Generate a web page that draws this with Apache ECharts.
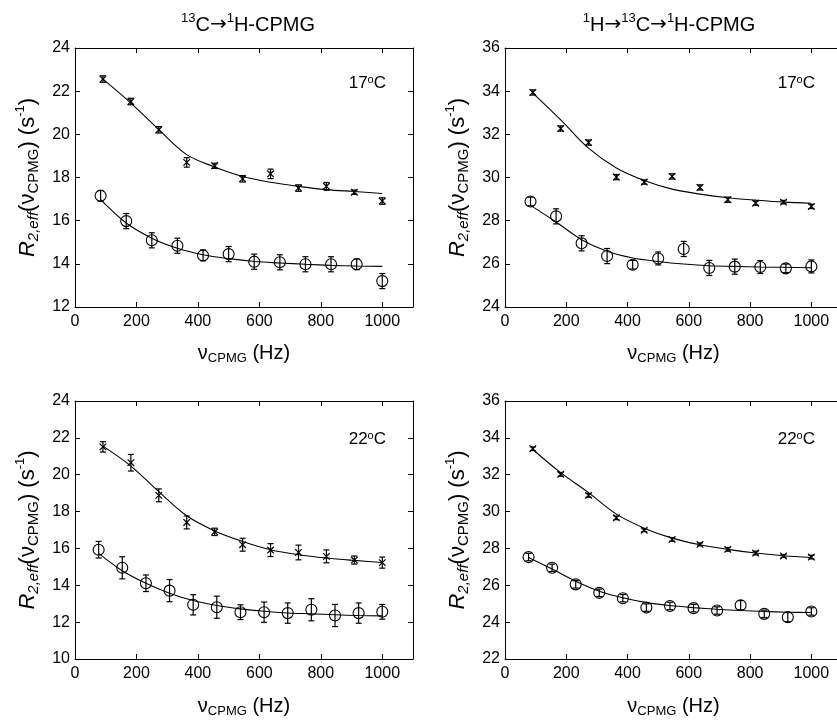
<!DOCTYPE html>
<html><head><meta charset="utf-8">
<script src="https://cdn.jsdelivr.net/npm/echarts@6/dist/echarts.min.js"></script>
<style>html,body{margin:0;padding:0;background:#fff}#c{width:837px;height:720px}</style>
</head><body><div id="c"></div>
<script>
// ---------- data ----------
const x11 = [90.9,181.8,272.7,363.6,454.5,545.5,636.4,727.3,818.2,909.1,1000];
const x12 = [83.3,166.7,250,333.3,416.7,500,583.3,666.7,750,833.3,916.7,1000];
const x13 = [76.9,153.8,230.8,307.7,384.6,461.5,538.5,615.4,692.3,769.2,846.2,923.1,1000];

// panel A: 13C->1H-CPMG, 17C
const A_upY   = [22.56,21.52,20.21,18.70,18.54,17.94,18.17,17.51,17.59,17.32,16.91];
const A_upErr = [0.15,0.15,0.15,0.22,0.12,0.15,0.22,0.15,0.18,0.1,0.15];
const A_upFit = [22.56,21.45,20.22,19.06,18.49,18.05,17.78,17.59,17.44,17.35,17.26];
const A_loY   = [17.15,15.98,15.09,14.84,14.39,14.45,14.10,14.07,13.98,13.98,13.98,13.20];
const A_loErr = [0.25,0.35,0.35,0.35,0.25,0.35,0.35,0.35,0.35,0.35,0.25,0.35];
const A_loFit = [16.97,15.89,15.19,14.72,14.42,14.24,14.11,14.04,13.98,13.93,13.90,13.88];

// panel B: 1H->13C->1H-CPMG, 17C
const B_upY   = [33.94,32.27,31.62,30.02,29.79,30.05,29.54,28.97,28.81,28.86,28.66];
const B_upErr = [0.12,0.12,0.12,0.12,0.1,0.12,0.12,0.12,0.1,0.08,0.1];
const B_upFit = [33.91,32.67,31.36,30.44,29.86,29.46,29.23,29.06,28.95,28.86,28.81];
const B_loY   = [28.89,28.20,26.95,26.36,25.96,26.25,26.69,25.81,25.87,25.85,25.79,25.88];
const B_loErr = [0.2,0.35,0.35,0.35,0.2,0.3,0.35,0.35,0.35,0.3,0.2,0.3];
const B_loFit = [28.71,27.94,27.12,26.58,26.27,26.11,25.99,25.91,25.88,25.85,25.84,25.82];

// panel C: 13C->1H-CPMG, 22C
const C_upY   = [21.51,20.65,18.88,17.41,16.90,16.20,15.91,15.78,15.57,15.37,15.23];
const C_upErr = [0.28,0.45,0.35,0.35,0.2,0.35,0.35,0.4,0.35,0.22,0.3];
const C_upFit = [21.55,20.47,19.08,17.77,16.95,16.38,15.93,15.66,15.48,15.35,15.24];
const C_loY   = [15.93,14.95,14.11,13.71,12.94,12.81,12.54,12.54,12.49,12.67,12.36,12.49,12.56];
const C_loErr = [0.45,0.6,0.45,0.6,0.55,0.6,0.4,0.55,0.55,0.6,0.6,0.55,0.4];
const C_loFit = [15.73,14.79,14.11,13.57,13.17,12.90,12.72,12.59,12.50,12.45,12.40,12.36,12.34];

// panel D: 1H->13C->1H-CPMG, 22C
const D_upY   = [33.41,32.02,30.88,29.66,28.99,28.49,28.22,27.95,27.75,27.59,27.53];
const D_upErr = [0.1,0.1,0.1,0.1,0.08,0.1,0.08,0.1,0.1,0.08,0.1];
const D_upFit = [33.37,32.11,31.03,29.86,29.10,28.56,28.20,27.95,27.75,27.60,27.51];
const D_loY   = [27.53,26.95,26.05,25.59,25.30,24.79,24.88,24.76,24.63,24.92,24.45,24.27,24.58];
const D_loErr = [0.2,0.2,0.2,0.2,0.2,0.2,0.2,0.2,0.2,0.25,0.2,0.25,0.2];
const D_loFit = [27.51,26.88,26.22,25.68,25.32,25.06,24.90,24.79,24.70,24.63,24.58,24.54,24.52];

const yRanges = [[12,24],[24,36],[10,24],[22,36]];
const tempLabels = ['17','17','22','22'];

const panels = [
  {up:[x11,A_upY,A_upErr,A_upFit], lo:[x12,A_loY,A_loErr,A_loFit]},
  {up:[x11,B_upY,B_upErr,B_upFit], lo:[x12,B_loY,B_loErr,B_loFit]},
  {up:[x11,C_upY,C_upErr,C_upFit], lo:[x13,C_loY,C_loErr,C_loFit]},
  {up:[x11,D_upY,D_upErr,D_upFit], lo:[x13,D_loY,D_loErr,D_loFit]}
];

// ---------- layout ----------
const FONT = '"Liberation Sans", Arial, Helvetica, sans-serif';
const ARROWFONT = '"DejaVu Sans", sans-serif';
const grids = [
  {left:75, top:48, width:338, height:259, outerBoundsMode:'none', containLabel:false},
  {left:505, top:48, width:337, height:259, outerBoundsMode:'none', containLabel:false},
  {left:75, top:401, width:338, height:258, outerBoundsMode:'none', containLabel:false},
  {left:505, top:401, width:337, height:258, outerBoundsMode:'none', containLabel:false}
];

const richY = {
  n:{fontSize:22, fontFamily:FONT, color:'#000', lineHeight:27},
  i:{fontSize:22, fontFamily:FONT, fontStyle:'italic', color:'#000', lineHeight:27},
  isub:{fontSize:15, fontFamily:FONT, fontStyle:'italic', color:'#000', lineHeight:9, verticalAlign:'bottom'},
  sub:{fontSize:15, fontFamily:FONT, color:'#000', lineHeight:9, verticalAlign:'bottom'},
  sup:{fontSize:13, fontFamily:FONT, color:'#000', lineHeight:16, verticalAlign:'top'}
};
const richX = {
  n:{fontSize:20, fontFamily:FONT, color:'#000', lineHeight:24},
  sub:{fontSize:13, fontFamily:FONT, color:'#000', lineHeight:8, verticalAlign:'bottom'}
};

function makeRender(kind){
  return function(params, api){
    const x = api.value(0), y = api.value(1), e = api.value(2);
    const c = api.coord([x,y]), lo = api.coord([x,y-e]), hi = api.coord([x,y+e]);
    const cw = 3;
    const st = {stroke:'#000', lineWidth:1.2, fill:'none'};
    const ch = [
      {type:'line', shape:{x1:c[0],y1:lo[1],x2:c[0],y2:hi[1]}, style:st},
      {type:'line', shape:{x1:c[0]-cw,y1:lo[1],x2:c[0]+cw,y2:lo[1]}, style:st},
      {type:'line', shape:{x1:c[0]-cw,y1:hi[1],x2:c[0]+cw,y2:hi[1]}, style:st}
    ];
    if (kind === 'o') {
      ch.push({type:'circle', shape:{cx:c[0], cy:c[1], r:5.5}, style:{stroke:'#000', lineWidth:1.1, fill:'none'}});
    } else {
      const s = 3.3;
      ch.push({type:'line', shape:{x1:c[0]-s,y1:c[1]-s,x2:c[0]+s,y2:c[1]+s}, style:st});
      ch.push({type:'line', shape:{x1:c[0]-s,y1:c[1]+s,x2:c[0]+s,y2:c[1]-s}, style:st});
    }
    return {type:'group', children:ch};
  };
}

const xAxes = [], yAxes = [], series = [], graphics = [];
const axLine = {show:true, onZero:false, lineStyle:{color:'#000', width:1}};
const axTick = {show:true, inside:true, length:5, lineStyle:{color:'#000', width:1}};

grids.forEach((g, i) => {
  const bottomRow = i >= 2;
  const rightCol = i % 2 === 1;
  xAxes.push({
    gridIndex:i, type:'value', min:0, max:1100, interval:200, position:'bottom',
    axisLine:axLine, axisTick:axTick, splitLine:{show:false},
    axisLabel:{color:'#000', fontSize:16, fontFamily:FONT, margin:7, showMaxLabel:false,
      formatter:v => v > 1000 ? '' : String(v)},
    name:'{n|ν}{sub|CPMG}{n| (Hz)}', nameLocation:'middle', nameGap: bottomRow ? 35 : 34,
    nameTextStyle:{rich:richX}
  });
  xAxes.push({
    gridIndex:i, type:'value', min:0, max:1100, interval:200, position:'top',
    axisLine:axLine, axisTick:axTick, splitLine:{show:false}, axisLabel:{show:false}
  });
  const [ymin, ymax] = yRanges[i];
  yAxes.push({
    gridIndex:i, type:'value', min:ymin, max:ymax, interval:2, position:'left',
    axisLine:axLine, axisTick:axTick, splitLine:{show:false},
    axisLabel:{color:'#000', fontSize:16, fontFamily:FONT, margin:5},
    name:'{i|R}{isub|2,eff}{n|(ν}{sub|CPMG}{n|) (s}{sup|-1}{n|)}',
    nameLocation:'middle', nameGap:34, nameTextStyle:{rich:richY}
  });
  yAxes.push({
    gridIndex:i, type:'value', min:ymin, max:ymax, interval:2, position:'right',
    show: !rightCol,
    axisLine:axLine, axisTick:axTick, splitLine:{show:false}, axisLabel:{show:false}
  });
  const xi = i*2, yi = i*2;
  const p = panels[i];
  [['up','x'],['lo','o']].forEach(([key, kind]) => {
    const [xs, ys, es, fit] = p[key];
    series.push({
      type:'line', xAxisIndex:xi, yAxisIndex:yi, smooth:0.35, symbol:'none',
      lineStyle:{color:'#000', width:1.1}, data: xs.map((x,k) => [x, fit[k]]), z:2, animation:false
    });
    series.push({
      type:'custom', xAxisIndex:xi, yAxisIndex:yi, renderItem:makeRender(kind),
      data: xs.map((x,k) => [x, ys[k], es[k]]), encode:{x:0, y:1}, z:3, animation:false
    });
  });
  graphics.push({
    type:'text', right: rightCol ? 837 - 815 : 837 - 386, top: bottomRow ? 430 : 74,
    style:{text: tempLabels[i] + '{s|o}C', fontSize:17, fontFamily:FONT, fill:'#000',
      rich:{s:{fontSize:11, fontFamily:FONT, verticalAlign:'top', lineHeight:18}}}
  });
});

const richTitle = {
  n:{fontSize:20, fontFamily:FONT, color:'#000', lineHeight:26},
  a:{fontSize:20, fontFamily:ARROWFONT, color:'#000', lineHeight:26},
  s:{fontSize:13, fontFamily:FONT, color:'#000', lineHeight:15, verticalAlign:'top'}
};
const titleTexts = ['{s|13}{n|C}{a|→}{s|1}{n|H-CPMG}', '{s|1}{n|H}{a|→}{s|13}{n|C}{a|→}{s|1}{n|H-CPMG}'];
const titleCenters = [243, 664];

const option = {
  animation:false,
  backgroundColor:'#fff',
  grid: grids,
  xAxis: xAxes,
  yAxis: yAxes,
  series: series,
  title: titleTexts.map((t, k) => ({
    text: t, left: titleCenters[k], top: 7, textAlign:'center',
    textStyle:{rich: richTitle, fontSize:20, fontFamily:FONT, color:'#000', fontWeight:'normal'}
  })),
  graphic: graphics
};
const chart = echarts.init(document.getElementById('c'));
chart.setOption(option);
</script></body></html>
